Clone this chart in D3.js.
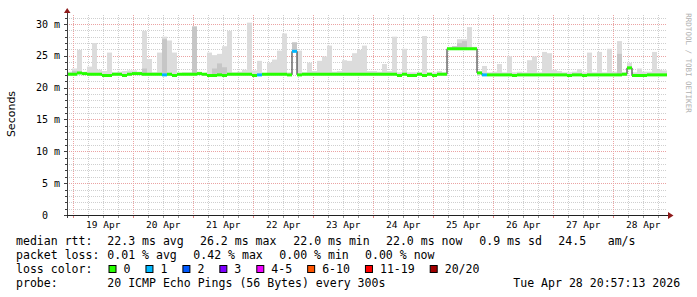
<!DOCTYPE html>
<html>
<head>
<meta charset="utf-8">
<script src="https://cdn.jsdelivr.net/npm/d3@7"></script>
<style>
html, body { margin: 0; padding: 0; background: #ffffff; }
svg { display: block; }
text { white-space: pre; }
</style>
</head>
<body>
<div id="chart"></div>
<script>
// 2-hour buckets, 10 days, starting 18 Apr 21:30
const startTime = new Date(2026, 3, 18, 21, 30);
const endTime = new Date(2026, 3, 28, 21, 30);
const bucketHours = 2;

// median rtt per bucket (ms)
const medianRtt = [
  22.1, 22.1, 22.3, 22.2, 22.1, 22.1, 22.1, 21.9, 21.9, 22.1,
  22.1, 21.9, 22.1, 22.2, 22.2, 22.1, 22.1, 22.1, 22.1, 22.0,
  22.1, 21.9, 22.1, 22.1, 22.1, 22.1, 22.2, 22.1, 21.9, 21.9,
  22.0, 21.9, 22.1, 22.1, 22.1, 22.1, 22.1, 21.9, 22.0, 22.1,
  22.1, 22.1, 22.1, 22.1, 22.0, 25.7, 22.0, 22.1, 22.1, 22.1,
  22.1, 22.1, 22.1, 22.1, 22.1, 22.1, 22.1, 22.1, 22.1, 22.1,
  22.1, 22.1, 22.1, 22.1, 22.1, 22.1, 21.9, 22.1, 21.9, 21.9,
  22.1, 21.9, 22.1, 21.9, 22.1, 22.1, 26.1, 26.1, 26.1, 26.1,
  26.1, 26.1, 22.3, 22.0, 22.0, 22.0, 22.0, 22.0, 22.0, 21.9,
  22.0, 22.0, 22.0, 22.0, 22.0, 22.0, 22.0, 22.0, 22.0, 22.0,
  21.9, 22.0, 22.0, 21.9, 22.0, 22.0, 22.0, 22.0, 22.0, 22.0,
  22.0, 22.1, 23.1, 21.9, 21.9, 21.9, 22.0, 22.0, 22.0, 22.0
];

// highest ping of the smoke per bucket (ms)
const smokeTop = [
  22.5, 23.0, 25.9, 22.5, 23.3, 27.0, 22.8, 22.6, 25.5, 22.4,
  22.5, 22.6, 22.7, 22.7, 22.5, 28.9, 24.5, 22.4, 25.5, 28.0,
  27.4, 25.5, 22.3, 22.4, 22.4, 29.6, 22.5, 22.3, 25.5, 25.1,
  25.3, 26.5, 28.9, 22.4, 22.5, 22.8, 30.2, 22.7, 24.2, 22.3,
  23.9, 24.4, 25.8, 28.5, 22.4, 27.1, 25.8, 22.4, 23.9, 22.6,
  24.2, 24.9, 26.6, 22.5, 22.6, 24.3, 24.2, 25.4, 25.9, 26.6,
  22.6, 22.6, 22.5, 23.7, 22.6, 28.0, 22.4, 26.1, 22.4, 22.4,
  22.4, 28.1, 22.4, 22.4, 22.6, 22.4, 26.4, 26.5, 27.6, 27.6,
  29.5, 26.4, 22.6, 23.4, 22.4, 22.5, 23.7, 22.4, 24.9, 22.4,
  22.5, 22.4, 24.3, 24.9, 22.4, 25.6, 25.4, 22.8, 22.6, 22.4,
  22.4, 22.5, 22.9, 22.4, 25.5, 22.4, 25.6, 22.4, 26.1, 22.5,
  27.3, 22.4, 23.9, 22.4, 23.0, 22.5, 22.5, 25.6, 22.8, 22.7
];

// top of the denser (darker) smoke band, null where there is none
const smokeDense = [
  null, 22.6, null, null, null, null, null, null, null, null,
  null, null, null, null, null, 23.0, null, null, null, 27.6,
  null, null, null, null, null, 29.6, null, null, null, 23.0,
  23.8, 23.2, null, null, null, null, null, null, null, null,
  null, null, null, null, null, 27.1, null, null, null, null,
  null, null, null, null, null, null, null, null, null, null,
  null, null, null, null, null, null, null, null, null, null,
  null, null, null, null, null, null, null, 26.5, 27.0, 27.3,
  null, null, null, null, null, null, null, null, null, null,
  null, null, null, null, null, null, null, null, null, null,
  null, null, null, null, null, null, null, null, null, null,
  25.3, null, null, null, null, null, null, null, null, null
];

// lost pings out of 20 per bucket
const lossCount = [
  0, 0, 0, 0, 0, 0, 0, 0, 0, 0,
  0, 0, 0, 0, 0, 0, 0, 0, 0, 1,
  0, 0, 0, 0, 0, 0, 0, 0, 0, 0,
  0, 0, 0, 0, 0, 0, 0, 0, 1, 0,
  0, 0, 0, 0, 0, 1, 0, 0, 0, 0,
  0, 0, 0, 0, 0, 0, 0, 0, 0, 0,
  0, 0, 0, 0, 0, 0, 0, 0, 0, 0,
  0, 0, 0, 0, 0, 0, 0, 0, 0, 0,
  0, 0, 0, 1, 0, 0, 0, 0, 0, 0,
  0, 0, 0, 0, 0, 0, 0, 0, 0, 0,
  0, 0, 0, 0, 0, 0, 0, 0, 0, 0,
  0, 0, 0, 0, 0, 0, 0, 0, 0, 0
];

const lossLabels = ["0", "1", "2", "3", "4-5", "6-10", "11-19", "20/20"];
const lossUpper = [0, 1, 2, 3, 5, 10, 19, 20];
const lossColors = ["#26ff00", "#00b8ff", "#0059ff", "#7e00ff", "#f000ff", "#ff5500", "#ff0000", "#a10000"];

const rttLegend = ["median rtt:", "22.3 ms avg", "26.2 ms max", "22.0 ms min", "22.0 ms now", "0.9 ms sd", "24.5", "am/s"];
const lossLegendRow = ["packet loss:", "0.01 % avg", "0.42 % max", "0.00 % min", "0.00 % now"];
const probeText = "20 ICMP Echo Pings (56 Bytes) every 300s";
const stampText = "Tue Apr 28 20:57:13 2026";

const width = 697;
const height = 297;
const plotLeft = 67, plotRight = 667, plotTop = 15, plotBottom = 215;
const mono = "DejaVu Sans Mono, monospace";

const x = d3.scaleTime().domain([startTime, endTime]).range([plotLeft, plotRight]);
const y = d3.scaleLinear().domain([0, 31.4]).range([plotBottom, plotTop]);

const svg = d3.select("#chart").append("svg")
  .attr("width", width)
  .attr("height", height)
  .attr("viewBox", [0, 0, width, height]);

svg.append("rect").attr("width", width).attr("height", height).attr("fill", "#ffffff");

const bucketStart = i => d3.timeHour.offset(startTime, i * bucketHours);
const bucketEnd = i => d3.timeHour.offset(startTime, (i + 1) * bucketHours);

// grid
const minorY = d3.range(1, 32).filter(v => v % 5 !== 0);
const majorY = d3.range(5, 31, 5);
const minorX = d3.timeHour.every(6).range(startTime, endTime).filter(t => t.getHours() !== 0);
const majorX = d3.timeDay.range(startTime, endTime);

const grid = svg.append("g").attr("shape-rendering", "crispEdges");
grid.selectAll("line.hmin").data(minorY).join("line")
  .attr("x1", plotLeft).attr("x2", plotRight)
  .attr("y1", d => Math.round(y(d)) + 0.5).attr("y2", d => Math.round(y(d)) + 0.5)
  .attr("stroke", "#cfcfcf").attr("stroke-dasharray", "1,1");
grid.selectAll("line.vmin").data(minorX).join("line")
  .attr("x1", d => Math.round(x(d)) + 0.5).attr("x2", d => Math.round(x(d)) + 0.5)
  .attr("y1", plotTop).attr("y2", plotBottom)
  .attr("stroke", "#cfcfcf").attr("stroke-dasharray", "1,1");
grid.selectAll("line.hmaj").data(majorY).join("line")
  .attr("x1", plotLeft).attr("x2", plotRight)
  .attr("y1", d => Math.round(y(d)) + 0.5).attr("y2", d => Math.round(y(d)) + 0.5)
  .attr("stroke", "#eba3a3").attr("stroke-dasharray", "1,1");
grid.selectAll("line.vmaj").data(majorX).join("line")
  .attr("x1", d => Math.round(x(d)) + 0.5).attr("x2", d => Math.round(x(d)) + 0.5)
  .attr("y1", plotTop).attr("y2", plotBottom)
  .attr("stroke", "#eba3a3").attr("stroke-dasharray", "1,1");

// smoke
const idx = d3.range(medianRtt.length);
svg.append("g").selectAll("rect").data(idx).join("rect")
  .attr("x", i => x(bucketStart(i)))
  .attr("width", i => x(bucketEnd(i)) - x(bucketStart(i)))
  .attr("y", i => y(smokeTop[i]))
  .attr("height", i => y(medianRtt[i] - 0.2) - y(smokeTop[i]))
  .attr("fill", "#dcdcdc");
svg.append("g").selectAll("rect").data(idx.filter(i => smokeDense[i] != null)).join("rect")
  .attr("x", i => x(bucketStart(i)))
  .attr("width", i => x(bucketEnd(i)) - x(bucketStart(i)))
  .attr("y", i => y(smokeDense[i]))
  .attr("height", i => y(medianRtt[i]) - y(smokeDense[i]))
  .attr("fill", "#c6c6c6");

// median: thin dark step line, then thick loss-coloured segments
const stepPts = idx.map(i => [bucketStart(i), medianRtt[i]]);
stepPts.push([endTime, medianRtt[medianRtt.length - 1]]);
svg.append("path")
  .datum(stepPts)
  .attr("fill", "none")
  .attr("stroke", "#202020")
  .attr("stroke-width", 1)
  .attr("d", d3.line().curve(d3.curveStepAfter).x(d => x(d[0])).y(d => y(d[1])));

const lossColor = n => lossColors[lossUpper.findIndex(u => n <= u)];
svg.append("g").selectAll("line").data(idx).join("line")
  .attr("x1", i => x(bucketStart(i)))
  .attr("x2", i => x(bucketEnd(i)))
  .attr("y1", i => y(medianRtt[i]))
  .attr("y2", i => y(medianRtt[i]))
  .attr("stroke", i => lossColor(lossCount[i]))
  .attr("stroke-width", 3);

// axes
const axisG = svg.append("g").attr("shape-rendering", "crispEdges");
axisG.append("line").attr("x1", plotLeft + 0.5).attr("x2", plotLeft + 0.5)
  .attr("y1", plotBottom + 3).attr("y2", 11).attr("stroke", "#404040");
axisG.append("line").attr("x1", plotLeft - 3).attr("x2", 669)
  .attr("y1", plotBottom + 0.5).attr("y2", plotBottom + 0.5).attr("stroke", "#202020");
axisG.selectAll("line.yt").data(d3.range(0, 32)).join("line")
  .attr("x1", d => d % 5 === 0 ? plotLeft - 3 : plotLeft - 2).attr("x2", plotLeft)
  .attr("y1", d => Math.round(y(d)) + 0.5).attr("y2", d => Math.round(y(d)) + 0.5)
  .attr("stroke", "#404040");
axisG.selectAll("line.xt").data(minorX.concat(majorX)).join("line")
  .attr("x1", d => Math.round(x(d)) + 0.5).attr("x2", d => Math.round(x(d)) + 0.5)
  .attr("y1", plotBottom + 1).attr("y2", plotBottom + 3)
  .attr("stroke", d => d.getHours() === 0 ? "#e08080" : "#909090");

svg.append("path").attr("d", "M64,13L70.5,13L67.2,8Z").attr("fill", "#8e1a1a");
svg.append("path").attr("d", "M668,212L668,219L673.5,215.5Z").attr("fill", "#8e1a1a");

// tick labels
svg.append("g").selectAll("text").data(d3.range(0, 31, 5)).join("text")
  .attr("x", 60).attr("y", d => y(d) + 3.6)
  .attr("text-anchor", "end")
  .attr("font-family", mono).attr("font-size", 10).attr("fill", "#000")
  .text(d => d === 0 ? "0  " : d + " m");

const fmtDay = d3.timeFormat("%d %b");
svg.append("g").selectAll("text").data(majorX).join("text")
  .attr("x", d => x(d3.timeHour.offset(d, 12)))
  .attr("y", 228)
  .attr("text-anchor", "middle")
  .attr("font-family", mono).attr("font-size", 9.5).attr("fill", "#000")
  .text(d => fmtDay(d));

svg.append("text")
  .attr("transform", "translate(15,114) rotate(-90)")
  .attr("text-anchor", "middle")
  .attr("font-family", "DejaVu Sans, sans-serif").attr("font-size", 11).attr("fill", "#000")
  .text("Seconds");

svg.append("text")
  .attr("transform", "translate(686,63) rotate(90)")
  .attr("text-anchor", "middle")
  .attr("font-family", mono).attr("font-size", 7.5).attr("fill", "#b0b0b0")
  .text("RRDTOOL / TOBI OETIKER");

// legend
const legendFont = 11.55;
const rttX = [16, 107.3, 200, 293.3, 386, 479.3, 558.3, 607.7];
const lossX = [16, 107.3, 193.3, 279.3, 365];
const legend = svg.append("g").attr("font-family", mono).attr("font-size", legendFont).attr("fill", "#000");
legend.selectAll("text.r1").data(rttLegend).join("text")
  .attr("x", (d, i) => rttX[i]).attr("y", 244.5).text(d => d);
legend.selectAll("text.r2").data(lossLegendRow).join("text")
  .attr("x", (d, i) => lossX[i]).attr("y", 258.5).text(d => d);
legend.append("text").attr("x", 16).attr("y", 272.5).text("loss color:");
legend.append("text").attr("x", 16).attr("y", 286.5).text("probe:");
legend.append("text").attr("x", 107.3).attr("y", 286.5).text(probeText);
legend.append("text").attr("x", 513.3).attr("y", 286.5).text(stampText);

const charW = 6.95;
let bx = 108.5;
lossLabels.forEach((lab, i) => {
  legend.append("rect")
    .attr("x", bx + 0.5).attr("y", 265.5).attr("width", 7).attr("height", 7)
    .attr("fill", lossColors[i]).attr("stroke", "#000").attr("stroke-width", 1);
  legend.append("text").attr("x", bx + 15).attr("y", 272.5).text(lab);
  bx = bx + 15 + lab.length * charW + 15;
});
</script>
</body>
</html>
